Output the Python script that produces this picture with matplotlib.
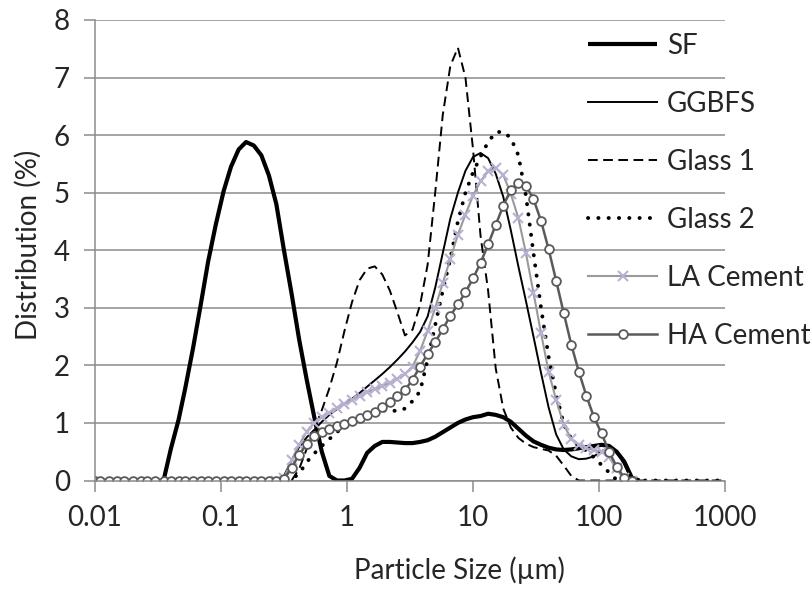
import numpy as np
import matplotlib
matplotlib.use("Agg")
import matplotlib.pyplot as plt

plt.rcParams['font.family'] = ['Lato', 'DejaVu Sans']

# Particle size classes (um), laser diffraction bins
sizes = [
    0.010, 0.011, 0.013, 0.015, 0.017, 0.020, 0.023, 0.026, 0.030, 0.035,
    0.040, 0.046, 0.052, 0.060, 0.069, 0.079, 0.091, 0.105, 0.120, 0.138,
    0.158, 0.182, 0.209, 0.240, 0.275, 0.316, 0.363, 0.417, 0.479, 0.550,
    0.631, 0.724, 0.832, 0.955, 1.096, 1.259, 1.445, 1.660, 1.905, 2.188,
    2.512, 2.884, 3.311, 3.802, 4.365, 5.012, 5.754, 6.607, 7.586, 8.710,
    10.00, 11.48, 13.18, 15.14, 17.38, 19.95, 22.91, 26.30, 30.20, 34.67,
    39.81, 45.71, 52.48, 60.26, 69.18, 79.43, 91.20, 104.7, 120.2, 138.0,
    158.5, 182.0, 208.9, 239.9, 275.4, 316.2, 363.1, 416.9, 478.6, 549.5,
    631.0, 724.4, 831.8, 955.0,
]

# each series: (index of first size class, values)
sf = (9, [
    0.0, 0.55, 1.05, 1.6, 2.3, 3.05, 3.8, 4.45, 5.03, 5.45,
    5.75, 5.88, 5.82, 5.65, 5.3, 4.8, 4.0, 3.25, 2.45, 1.75,
    1.1, 0.5, 0.08, 0.0, 0.0, 0.03, 0.22, 0.48, 0.6, 0.67,
    0.67, 0.66, 0.65, 0.65, 0.67, 0.7, 0.76, 0.84, 0.92, 1.0,
    1.06, 1.1, 1.12, 1.16, 1.14, 1.1, 1.02, 0.9, 0.78, 0.68,
    0.62, 0.57, 0.54, 0.53, 0.54, 0.56, 0.58, 0.6, 0.62, 0.6,
    0.5, 0.33, 0.05, 0.0,
])
ggbfs = (24, [
    0.0, 0.08, 0.35, 0.58, 0.75, 0.88, 1.02, 1.14, 1.24, 1.33,
    1.42, 1.52, 1.63, 1.74, 1.85, 1.97, 2.1, 2.24, 2.4, 2.58,
    2.85, 3.35, 3.95, 4.55, 5.0, 5.38, 5.62, 5.69, 5.6, 5.33,
    4.93, 4.35, 3.72, 3.12, 2.5, 1.87, 1.27, 0.8, 0.54, 0.42,
    0.37, 0.38, 0.42, 0.51, 0.57, 0.5, 0.28, 0.0,
])
glass1 = (24, [
    0.0, 0.0, 0.0, 0.2, 0.55, 0.9, 1.22, 1.6, 2.05, 2.6,
    3.1, 3.48, 3.68, 3.72, 3.58, 3.3, 2.92, 2.52, 2.62, 3.05,
    3.75, 5.0, 6.35, 7.2, 7.52, 7.0, 5.76, 4.25, 3.3, 1.95,
    1.25, 0.92, 0.74, 0.64, 0.58, 0.55, 0.52, 0.43, 0.26, 0.08,
] + [0.0] * 20)
glass2 = (24, [
    0.0, 0.0, 0.02, 0.12, 0.32, 0.47, 0.6, 0.72, 0.84, 0.95,
    1.02, 1.08, 1.14, 1.18, 1.21, 1.23, 1.2, 1.25, 1.38, 1.55,
    2.1, 2.7, 3.3, 3.85, 4.5, 5.0, 5.35, 5.63, 5.88, 6.05,
    6.06, 5.95, 5.65, 4.95, 3.95, 3.0, 2.15, 1.5, 0.98, 0.72,
    0.6, 0.52, 0.4, 0.27, 0.14, 0.01,
] + [0.0] * 14)
la_cement = (24, [
    0.0, 0.05, 0.35, 0.62, 0.85, 1.0, 1.1, 1.18, 1.26, 1.33,
    1.4, 1.47, 1.53, 1.59, 1.64, 1.7, 1.77, 1.85, 1.98, 2.25,
    2.6, 3.0, 3.43, 3.85, 4.27, 4.62, 4.95, 5.2, 5.37, 5.43,
    5.31, 4.98, 4.56, 3.95, 3.26, 2.56, 1.89, 1.4, 0.97, 0.72,
    0.62, 0.56, 0.53, 0.5, 0.4, 0.22, 0.05, 0.0,
])
ha_cement = (0, [0.0] * 25 + [
    0.03, 0.22, 0.45, 0.63, 0.77, 0.85, 0.9, 0.95, 0.99, 1.03,
    1.08, 1.13, 1.19, 1.27, 1.36, 1.46, 1.57, 1.75, 1.98, 2.2,
    2.4, 2.63, 2.86, 3.06, 3.27, 3.51, 3.78, 4.1, 4.44, 4.77,
    5.05, 5.17, 5.12, 4.89, 4.51, 4.02, 3.47, 2.91, 2.36, 1.89,
    1.47, 1.1, 0.82, 0.5, 0.24, 0.04, 0.0,
])

GRID = '#8c8c8c'


def xy(series):
    start, vals = series
    return sizes[start:start + len(vals)], vals


fig = plt.figure(figsize=(8.12, 5.89), dpi=100)
ax = fig.add_axes([95 / 812, 1 - 480.5 / 589, 630 / 812, 460.5 / 589])

ax.plot(*xy(sf), color='black', lw=3.0, label='SF', solid_capstyle='butt')
ax.plot(*xy(ggbfs), color='black', lw=1.4, label='GGBFS')
ax.plot(*xy(glass1), color='black', lw=1.4, dashes=(5, 2.8), label='Glass 1')
ax.plot(*xy(glass2), color='black', lw=2.8, dashes=(0.05, 2.6),
        dash_capstyle='round', label='Glass 2')
ax.plot(*xy(la_cement), color='#9a9a9a', lw=1.5, marker='x', ms=6.5,
        mec='#b9b0d2', mew=1.5, label='LA Cement')
ax.plot(*xy(ha_cement), color='#5a5a5a', lw=1.8, marker='o', ms=6.3,
        mec='#5a5a5a', mfc='white', mew=1.3, label='HA Cement')

ax.set_xscale('log')
ax.set_xlim(0.01, 1000)
ax.set_ylim(0, 8)
ax.set_xticks([0.01, 0.1, 1, 10, 100, 1000])
ax.set_xticklabels(['0.01', '0.1', '1', '10', '100', '1000'])
ax.xaxis.set_minor_locator(matplotlib.ticker.NullLocator())
ax.set_yticks(range(0, 9))

ax.yaxis.grid(True, color=GRID, lw=1.1)
ax.set_axisbelow(True)
for s in ['top', 'right']:
    ax.spines[s].set_visible(False)
for s in ['left', 'bottom']:
    ax.spines[s].set_color(GRID)
    ax.spines[s].set_linewidth(1.1)
ax.tick_params(axis='both', colors=GRID, length=8, width=1.1, labelsize=20,
               labelcolor='#262626')
ax.tick_params(axis='y', pad=10)
ax.tick_params(axis='x', pad=10)

fig.text(28 / 812, 1 - 245 / 589, 'Distribution (%)', rotation=90,
         ha='center', va='center', fontsize=20, color='#262626')
fig.text(459 / 812, 1 - 570 / 589, 'Particle Size (\u00b5m)',
         ha='center', va='center', fontsize=20, color='#262626')

leg = ax.legend(loc='upper left', bbox_to_anchor=(588 / 812, 1 - 33 / 589),
                bbox_transform=fig.transFigure, frameon=False, fontsize=20,
                handlelength=2.5, handletextpad=0.35, labelspacing=1.15,
                borderpad=0, borderaxespad=0, numpoints=1)
for t in leg.get_texts():
    t.set_color('#262626')

fig.savefig('out.png', dpi=100)
